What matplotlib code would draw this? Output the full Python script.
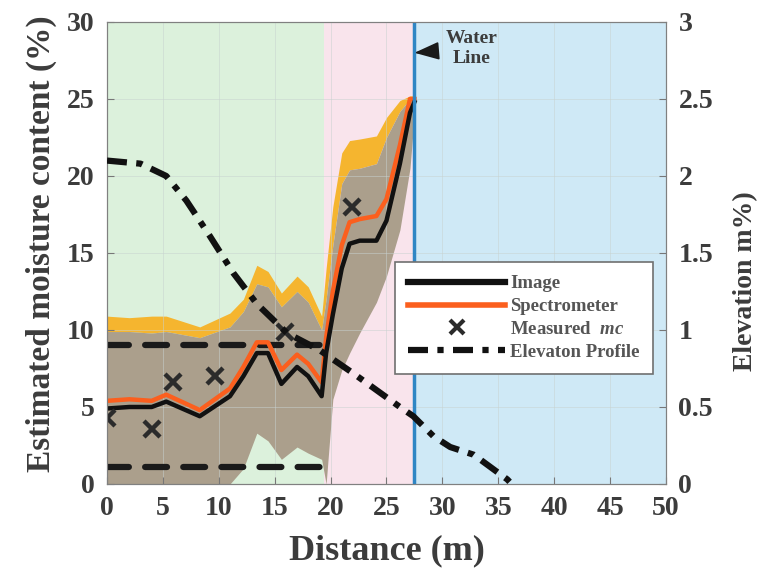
import matplotlib
matplotlib.use("Agg")
import matplotlib.pyplot as plt
from matplotlib.lines import Line2D

plt.rcParams['font.family'] = ['Liberation Serif', 'DejaVu Serif']
plt.rcParams['mathtext.fontset'] = 'custom'
plt.rcParams['mathtext.it'] = 'Liberation Serif:italic:bold'

# ---- data ----
dist = [0, 2, 4, 5.3, 8.3, 11, 12.2, 13.4, 14.4, 15.6, 17.0, 18.0, 19.2, 19.6,
        20.2, 21.0, 21.7, 22.6, 24.1, 25.0, 26.2, 27.1, 27.5]
image_mc = [4.9, 5.0, 5.0, 5.35, 4.4, 5.7, 7.0, 8.5, 8.5, 6.5, 7.6, 7.0, 5.7, 8.5,
            11.0, 14.0, 15.6, 15.8, 15.8, 17.1, 20.8, 24.1, 24.8]
spec_mc = [5.4, 5.5, 5.4, 5.8, 4.8, 6.2, 7.6, 9.2, 9.2, 7.4, 8.4, 7.8, 6.6, 9.5,
           12.5, 15.5, 17.0, 17.2, 17.4, 18.5, 22.0, 25.0, 25.0]
spec_upper = [10.9, 10.8, 10.9, 10.9, 10.2, 11.1, 12.0, 14.2, 13.8, 12.4, 13.5, 12.8, 10.9, 14.0,
              18.0, 21.5, 22.3, 22.4, 22.6, 23.8, 24.9, 25.2, 25.2]
img_upper = [9.9, 9.9, 9.8, 9.9, 9.5, 10.2, 11.2, 13.0, 12.8, 11.5, 12.5, 11.8, 10.0, 12.0,
             15.5, 19.5, 20.4, 20.5, 20.8, 22.5, 24.2, 25.0, 25.0]
img_lower = [0, 0, 0, 0, 0, 0, 1.0, 3.3, 2.8, 1.6, 2.4, 2.0, 1.6, 0.0,
             5.5, 7.4, 8.5, 9.8, 11.8, 13.5, 16.5, 20.5, 24.0]

meas_x = [0, 4.0, 5.9, 9.7, 15.9, 21.9]
meas_mc = [4.3, 3.6, 6.6, 7.0, 9.9, 18.0]

elev_x = [0, 3, 5.3, 7.1, 9.2, 11.3, 13.4, 16.1, 19.0, 22.0, 26.2, 27.4, 29.2, 30.7,
          32.8, 34.3, 35.8, 36.2]
elev = [2.1, 2.08, 2.0, 1.84, 1.61, 1.37, 1.17, 0.98, 0.87, 0.72, 0.50, 0.44, 0.31, 0.24,
        0.19, 0.11, 0.03, 0.0]

range_lines = [9.0, 1.1]
range_x = [0, 19.4]

zone_edges = [0, 19.4, 27.5, 50]
zone_colors = ['#dcf1dc', '#f9e4ec', '#cfe9f6']
water_x = 27.5

xticks = [0, 5, 10, 15, 20, 25, 30, 35, 40, 45, 50]
yticks = [0, 5, 10, 15, 20, 25, 30]
y2ticks = [0, 0.5, 1, 1.5, 2, 2.5, 3]
y2labels = ['0', '0.5', '1', '1.5', '2', '2.5', '3']

txt = '#3c3c3c'

fig = plt.figure(figsize=(7.62, 5.77), dpi=100)
ax = fig.add_axes([0.1404, 0.1612, 0.7336, 0.8007])

for i in range(3):
    ax.axvspan(zone_edges[i], zone_edges[i + 1], color=zone_colors[i], lw=0, zorder=0)

ax.fill_between(dist, img_upper, spec_upper, color='#f5b52f', lw=0, zorder=1)
ax.fill_between(dist, img_lower, img_upper, color='#ab9f8c', lw=0, zorder=1)

for yv in range_lines:
    ax.plot(range_x, [yv, yv], color='#1a1a1a', lw=4.5, ls=(0, (3.5, 2.6)),
            solid_capstyle='round', dash_capstyle='round', zorder=3)

ax.plot(dist, spec_mc, color='#fb5f1e', lw=3.2, zorder=4)
ax.plot(dist, image_mc, color='#111111', lw=3.2, zorder=5)
ax.plot(meas_x, meas_mc, ls='none', marker='x', ms=12, mew=3.2, color='#2b2b2b', zorder=6)

ax.axvline(water_x, color='#2f86c4', lw=2.5, zorder=6)

ax.set_xlim(0, 50)
ax.set_ylim(0, 30)
ax.set_xticks(xticks)
ax.set_yticks(yticks)
ax.grid(True, color='#c8d2d0', lw=0.6, alpha=0.6)
ax.set_axisbelow(False)
ax.tick_params(direction='in', length=5, width=0.8, colors='#777777', labelcolor=txt,
               labelsize=20, pad=9)
for lab in ax.get_xticklabels() + ax.get_yticklabels():
    lab.set_fontweight('bold')
ax.set_xlabel('Distance (m)', fontsize=26, fontweight='bold', color=txt, labelpad=9)
ax.set_ylabel('Estimated moisture content (%)', fontsize=24, fontweight='bold', color=txt)
ax.yaxis.set_label_coords(-0.09, 0.52)
for s in ax.spines.values():
    s.set_color('#808080')

ax2 = ax.twinx()
ax2.plot(elev_x, elev, color='#111111', lw=4.5, ls=(0, (3.2, 1.5, 1.0, 1.5)), zorder=5)
ax2.set_ylim(0, 3)
ax2.set_yticks(y2ticks)
ax2.set_yticklabels(y2labels)
ax2.tick_params(direction='in', length=5, width=0.8, colors='#777777', labelcolor=txt,
                labelsize=20, pad=9)
for lab in ax2.get_yticklabels():
    lab.set_fontweight('bold')
ax2.set_ylabel('Elevation m%)', fontsize=20, fontweight='bold', color=txt)
ax2.yaxis.set_label_coords(1.12, 0.44)
for s in ax2.spines.values():
    s.set_color('#808080')

ax2.annotate('Water\nLine', xy=(water_x, 2.8), xytext=(32.6, 2.83),
             ha='center', va='center', fontsize=14, fontweight='bold', color=txt,
             linespacing=1.25,
             arrowprops=dict(arrowstyle='-|>,head_length=1.1,head_width=0.4',
                             color='#1a1a1a', lw=1.2, shrinkA=12, shrinkB=0))

handles = [
    Line2D([], [], color='#111111', lw=4.5),
    Line2D([], [], color='#fb5f1e', lw=4),
    Line2D([], [], ls='none', marker='x', ms=10, mew=3, color='#2b2b2b'),
    Line2D([], [], color='#111111', lw=4.5, ls=(0, (3.2, 1.5, 1.0, 1.5))),
]
labels = ['Image', 'Spectrometer', r'Measured  $mc$', 'Elevaton Profile']
leg = ax2.legend(handles, labels, loc='upper left', bbox_to_anchor=(0.515, 0.48),
                 frameon=True, fancybox=False, edgecolor='#707070', framealpha=1,
                 handlelength=5.2, handletextpad=0.25, borderpad=0.7, labelspacing=0.3,
                 borderaxespad=0,
                 prop={'size': 13.5, 'weight': 'bold'})
for t in leg.get_texts():
    t.set_color('#555555')
leg.get_frame().set_linewidth(1.2)
leg.set_zorder(10)

fig.savefig('out.png', dpi=100)
